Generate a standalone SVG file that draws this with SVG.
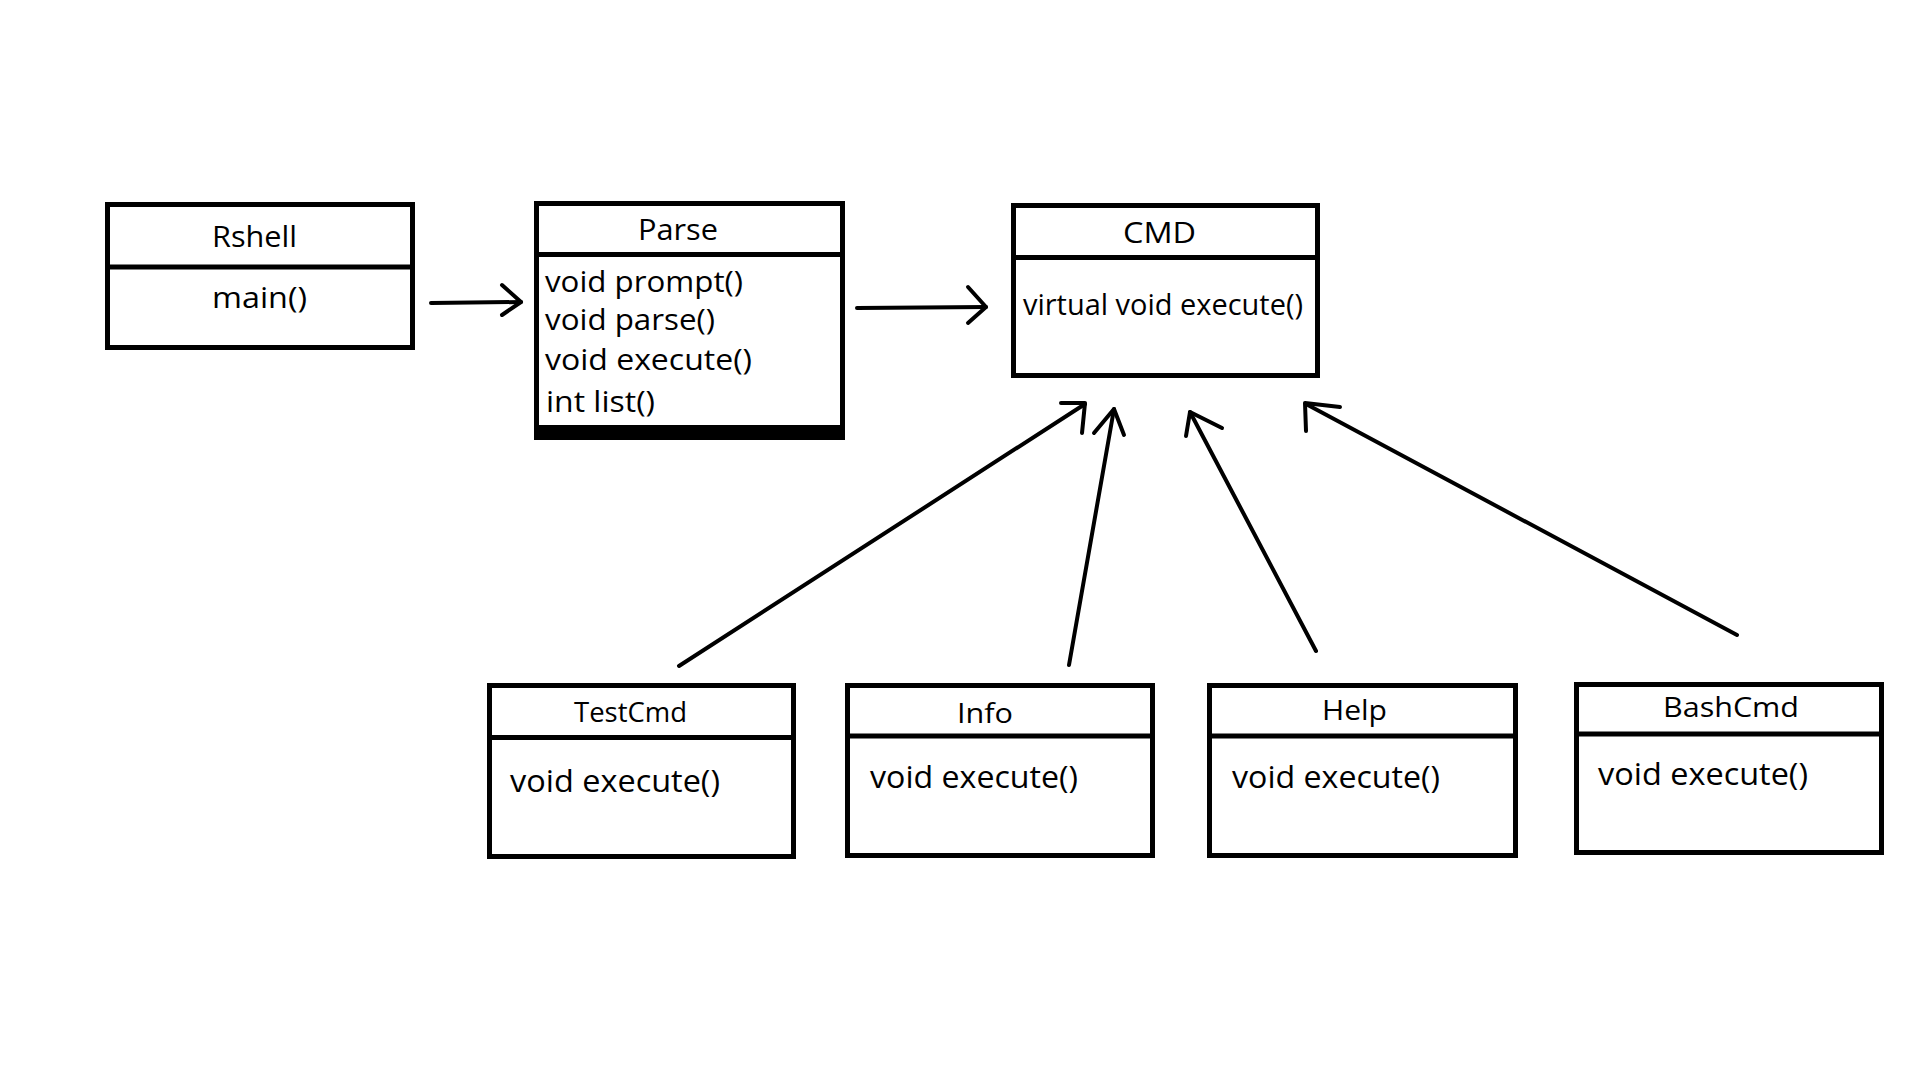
<svg xmlns="http://www.w3.org/2000/svg" width="1920" height="1080" viewBox="0 0 1920 1080">
  <style>
    .box { fill: #ffffff; stroke: #000000; stroke-width: 5; }
    .div { stroke: #000000; stroke-width: 5; }
    .t { font-family: "Open Sans", "Noto Sans", "Liberation Sans", sans-serif; fill: #000000; }
    .title { font-size: 30px; }
    .m { font-size: 30px; }
    .sub { font-size: 28px; }
    .sm { font-size: 31px; }
    .wire { fill: none; stroke: #000000; stroke-width: 4; stroke-linecap: round; stroke-linejoin: round; }
  </style>
  <rect width="1920" height="1080" fill="#ffffff"/>

  <!-- Rshell -->
  <g id="rshell">
    <rect class="box" x="107.5" y="204.5" width="305" height="143"/>
    <line class="div" x1="105" y1="267" x2="415" y2="267"/>
    <text class="t title" x="212" y="247" textLength="85" lengthAdjust="spacingAndGlyphs">Rshell</text>
    <text class="t title" x="212" y="308" textLength="95" lengthAdjust="spacingAndGlyphs">main()</text>
  </g>

  <!-- Parse -->
  <g id="parse">
    <rect class="box" x="536.5" y="203.5" width="306" height="229"/>
    <rect x="534" y="425" width="311" height="15" fill="#000000"/>
    <line class="div" x1="534" y1="254.5" x2="845" y2="254.5"/>
    <text class="t title" x="638" y="240" textLength="80" lengthAdjust="spacingAndGlyphs">Parse</text>
    <text class="t m" x="545" y="292" textLength="198" lengthAdjust="spacingAndGlyphs">void prompt()</text>
    <text class="t m" x="545" y="330" textLength="170" lengthAdjust="spacingAndGlyphs">void parse()</text>
    <text class="t m" x="545" y="370" textLength="207" lengthAdjust="spacingAndGlyphs">void execute()</text>
    <text class="t m" x="546" y="412" textLength="109" lengthAdjust="spacingAndGlyphs">int list()</text>
  </g>

  <!-- CMD -->
  <g id="cmd">
    <rect class="box" x="1013.5" y="205.5" width="304" height="170"/>
    <line class="div" x1="1011" y1="257.5" x2="1320" y2="257.5"/>
    <text class="t m" x="1123" y="243" textLength="73" lengthAdjust="spacingAndGlyphs">CMD</text>
    <text class="t m" x="1023" y="315" textLength="280" lengthAdjust="spacingAndGlyphs">virtual void execute()</text>
  </g>

  <!-- TestCmd -->
  <g id="testcmd">
    <rect class="box" x="489.5" y="685.5" width="304" height="171"/>
    <line class="div" x1="487" y1="737.5" x2="796" y2="737.5"/>
    <text class="t sub" x="574" y="722" textLength="113" lengthAdjust="spacingAndGlyphs">TestCmd</text>
    <text class="t sm" x="510" y="792" textLength="210" lengthAdjust="spacingAndGlyphs">void execute()</text>
  </g>

  <!-- Info -->
  <g id="info">
    <rect class="box" x="847.5" y="685.5" width="305" height="170"/>
    <line class="div" x1="845" y1="736" x2="1155" y2="736"/>
    <text class="t sub" x="957" y="723" textLength="56" lengthAdjust="spacingAndGlyphs">Info</text>
    <text class="t sm" x="870" y="788" textLength="208" lengthAdjust="spacingAndGlyphs">void execute()</text>
  </g>

  <!-- Help -->
  <g id="help">
    <rect class="box" x="1209.5" y="685.5" width="306" height="170"/>
    <line class="div" x1="1207" y1="736" x2="1518" y2="736"/>
    <text class="t sub" x="1322" y="720" textLength="65" lengthAdjust="spacingAndGlyphs">Help</text>
    <text class="t sm" x="1232" y="788" textLength="208" lengthAdjust="spacingAndGlyphs">void execute()</text>
  </g>

  <!-- BashCmd -->
  <g id="bashcmd">
    <rect class="box" x="1576.5" y="684.5" width="305" height="168"/>
    <line class="div" x1="1574" y1="734" x2="1884" y2="734"/>
    <text class="t sub" x="1663" y="717" textLength="136" lengthAdjust="spacingAndGlyphs">BashCmd</text>
    <text class="t sm" x="1598" y="785" textLength="210" lengthAdjust="spacingAndGlyphs">void execute()</text>
  </g>

  <!-- connectors -->
  <g id="connectors">
    <!-- Rshell to Parse -->
    <line class="wire" x1="431" y1="303" x2="521" y2="302"/>
    <polyline class="wire" points="502,285 521,302 502,315"/>
    <!-- Parse to CMD -->
    <line class="wire" x1="857" y1="308" x2="986" y2="307"/>
    <polyline class="wire" points="968,287 986,307 968,323"/>
    <!-- TestCmd to CMD -->
    <line class="wire" x1="679" y1="666" x2="1085" y2="404"/>
    <polyline class="wire" points="1061,403 1085,403 1082,433"/>
    <!-- Info to CMD -->
    <line class="wire" x1="1069" y1="665" x2="1114" y2="409"/>
    <polyline class="wire" points="1094,433 1114,409 1124,435"/>
    <!-- Help to CMD -->
    <line class="wire" x1="1316" y1="651" x2="1190" y2="412"/>
    <polyline class="wire" points="1186,436 1190,412 1222,428"/>
    <!-- BashCmd to CMD -->
    <line class="wire" x1="1737" y1="635" x2="1306" y2="404"/>
    <polyline class="wire" points="1306,431 1305,403 1340,407"/>
  </g>
</svg>
